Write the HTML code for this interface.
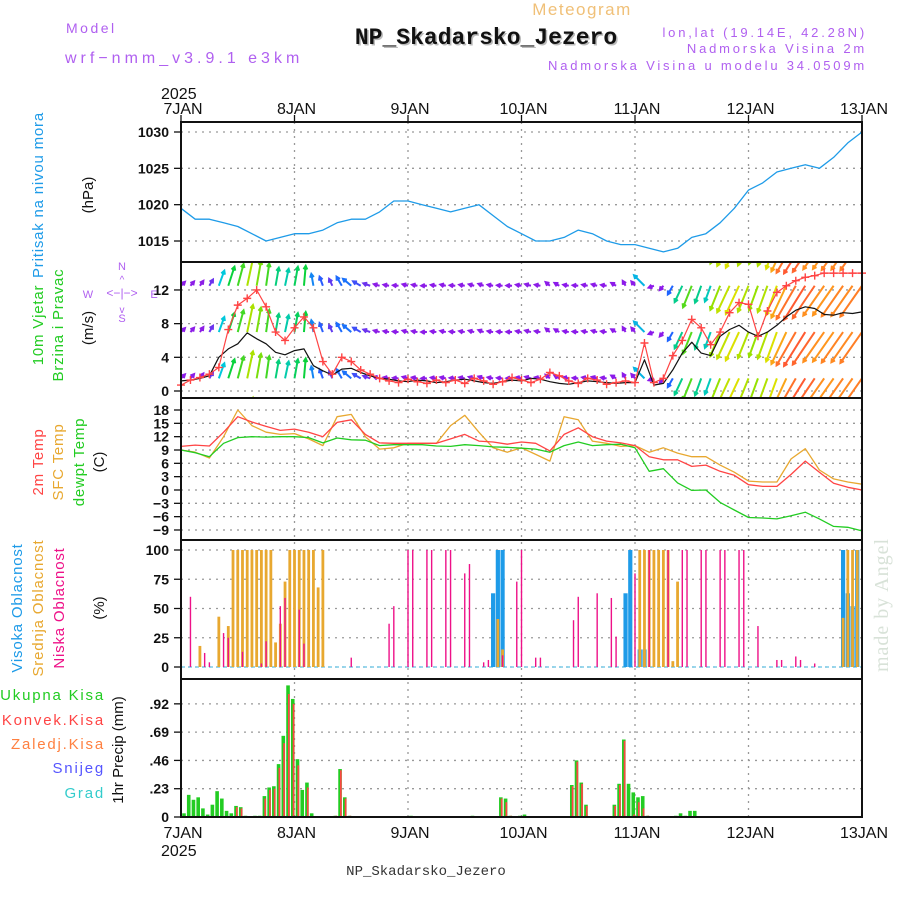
<!DOCTYPE html>
<html><head><meta charset="utf-8"><style>
html,body{margin:0;padding:0;background:#fff;}
svg{display:block;font-family:"Liberation Sans",sans-serif;}
</style></head><body>
<svg id="chart" width="900" height="900" viewBox="0 0 900 900" xmlns="http://www.w3.org/2000/svg">
<defs><clipPath id="windclip"><rect x="181" y="263" width="681" height="134"/></clipPath></defs>
<rect x="0" y="0" width="900" height="900" fill="#fff"/>
<text x="582" y="15" font-size="17" fill="#f0c078" text-anchor="middle" letter-spacing="1.5">Meteogram</text>
<text x="486" y="44" font-size="23" font-weight="bold" fill="#bbb" text-anchor="middle" font-family="Liberation Mono, monospace" transform="translate(1.5,1.5)">NP_Skadarsko_Jezero</text>
<text x="486" y="44" font-size="23" font-weight="bold" fill="#111" text-anchor="middle" font-family="Liberation Mono, monospace">NP_Skadarsko_Jezero</text>
<text x="66" y="33" font-size="14" fill="#b060f0" letter-spacing="2.5">Model</text>
<text x="65" y="63" font-size="16" fill="#b060f0" letter-spacing="4">wrf−nmm_v3.9.1 e3km</text>
<text x="867" y="37" font-size="13" fill="#b060f0" text-anchor="end" letter-spacing="2.8">lon,lat (19.14E, 42.28N)</text>
<text x="867" y="53" font-size="13" fill="#b060f0" text-anchor="end" letter-spacing="2.8">Nadmorska Visina 2m</text>
<text x="867" y="70" font-size="13" fill="#b060f0" text-anchor="end" letter-spacing="2.8">Nadmorska Visina u modelu 34.0509m</text>
<text x="161" y="99" font-size="16" fill="#111">2025</text>
<text x="161" y="856" font-size="16" fill="#111">2025</text>
<text x="426" y="875" font-size="14" fill="#333" text-anchor="middle" font-family="Liberation Mono, monospace">NP_Skadarsko_Jezero</text>

<text transform="translate(43,195) rotate(-90)" font-size="15" fill="#1e9be8" text-anchor="middle" letter-spacing="0.8">Pritisak na nivou mora</text>
<text transform="translate(93,195) rotate(-90)" font-size="15" fill="#111" text-anchor="middle">(hPa)</text>
<text transform="translate(43,325) rotate(-90)" font-size="15" fill="#22cc22" text-anchor="middle" letter-spacing="0.8">10m Vjetar</text>
<text transform="translate(63,325) rotate(-90)" font-size="15" fill="#22cc22" text-anchor="middle" letter-spacing="0.8">Brzina i Pravac</text>
<text transform="translate(93,328) rotate(-90)" font-size="15" fill="#111" text-anchor="middle">(m/s)</text>
<g fill="#b060f0" font-size="11" text-anchor="middle">
<text x="122" y="270">N</text><text x="122" y="322">S</text><text x="88" y="298">W</text><text x="154" y="298">E</text>
<text x="122" y="297" font-size="12">&lt;−|−&gt;</text>
<text x="122" y="283" font-size="10">^</text><text x="122" y="313" font-size="10">v</text>
</g>
<text transform="translate(43,462) rotate(-90)" font-size="15" fill="#ff4444" text-anchor="middle" letter-spacing="0.8">2m Temp</text>
<text transform="translate(63,462) rotate(-90)" font-size="15" fill="#e8a830" text-anchor="middle" letter-spacing="0.8">SFC Temp</text>
<text transform="translate(84,462) rotate(-90)" font-size="15" fill="#22cc22" text-anchor="middle" letter-spacing="0.8">dewpt Temp</text>
<text transform="translate(104,462) rotate(-90)" font-size="15" fill="#111" text-anchor="middle">(C)</text>
<text transform="translate(22,608) rotate(-90)" font-size="15" fill="#1e9be8" text-anchor="middle" letter-spacing="0.8">Visoka Oblacnost</text>
<text transform="translate(43,608) rotate(-90)" font-size="15" fill="#e8a830" text-anchor="middle" letter-spacing="0.8">Srednja Oblacnost</text>
<text transform="translate(64,608) rotate(-90)" font-size="15" fill="#ee1188" text-anchor="middle" letter-spacing="0.8">Niska Oblacnost</text>
<text transform="translate(104,608) rotate(-90)" font-size="15" fill="#111" text-anchor="middle">(%)</text>
<g font-size="15" text-anchor="end" letter-spacing="1.8">
<text x="105" y="700" fill="#22cc22">Ukupna Kisa</text>
<text x="105" y="725" fill="#ff4444">Konvek.Kisa</text>
<text x="105" y="749" fill="#ff8040">Zaledj.Kisa</text>
<text x="105" y="773" fill="#5555ff">Snijeg</text>
<text x="105" y="798" fill="#33cccc">Grad</text>
</g>
<text transform="translate(123,750) rotate(-90)" font-size="15" fill="#111" text-anchor="middle">1hr Precip (mm)</text>
<text transform="translate(888,605) rotate(-90)" font-size="20" fill="#d8e2d8" text-anchor="middle" letter-spacing="1" font-family="Liberation Serif, serif">made by Angel</text>
<g id="plot"></g>
</svg>
<script>
const days = ['7JAN','8JAN','9JAN','10JAN','11JAN','12JAN','13JAN'];
const pressure = [1019.5,1018,1018,1017.5,1017,1016,1015,1015.5, 1016,1016,1016.5,1017.5,1018,1018,1019,1020.5, 1020.5,1020,1019.5,1019,1019.5,1020,1018.5,1017, 1016,1015,1015,1015.5,1016.5,1016,1015,1014.5, 1014.5,1014,1013.5,1014,1015.5,1016,1017.5,1019.5, 1022,1023,1024.5,1025,1025.5,1025,1026.5,1028.5, 1030];
const temp2m = [9.8,10.1,9.9,13,16.5,15.3,14.3,13.4,13.7,13,12,15.2,15.8,12.5,10.6,10.5, 10.5,10.5,10.5,11.5,12.5,11,10.8,10.3, 10.8,10.5,8.8,12.5,14,12,11,10.6, 10,7.5,6.8,6.8,5.3,5.6,4.2,3.3, 1.2,0.8,0.8,3.5,6.5,4,1.5,0.6, 0];
const tempSfc = [9,8.5,7.2,12,18,14.5,13,12.5,12.7,11.5,10,16.5,17,12,9.2,9.5, 10.5,10.5,10.5,14.5,16.8,13,9.5,8.5, 9.5,8,6.5,16.5,15.8,11,10.5,9.8, 10,8.5,9.5,8.3,7.5,7.5,5.6,4, 2,1.8,1.8,7,9.3,4.5,2.5,1.8, 1.3];
const dewpt = [9,8.4,7.5,10.5,11.8,12,11.9,12,12,11.8,10.6,11.7,11.3,11.2,10,10.2, 10.2,10.2,9.9,9.8,10.2,10,9.7,9.6, 9.4,9.2,8.5,10,10.8,10,10.2,10.3, 9.5,4.2,4.8,1.6,-0.1,0,-2.8,-4.5, -6.2,-6.3,-6.5,-5.8,-5,-6.5,-8.2,-8.4, -9.2];
const windSpeed = [1.2,1.3,1.5,1.8,4.0,5.0,5.6,6.9,6.2,5.6,4.6,4.3,4.8,5.0,3.0,2.4,1.9,2.6,2.7,2.2,1.8,1.5, 1.4,1.2,1.1,1.3,1.2,1.0,1.1,1.3,1.4,1.2,1.0,0.9,1.1,1.3,1.2,1.5,1.4,1.1,0.9,0.8,1.0,1.2,1.1,1.0,0.9,1.0, 1.0,3.7,0.7,0.9,2.5,4.5,5.8,4.5,4.2,6.5,7.3,7.8,7.0,6.5,7.0,7.8,8.8,9.6,10.0,9.8,9.1,9.0,9.3,9.2,9.4];
const windGust = [0.7,1.3,1.6,2.0,2.8,7.3,10.2,11.0,12.0,10.0,7.0,6.0,7.5,8.8,7.5,3.5,2.0,4.0,3.5,2.5,2.0,1.5, 1.2,1.0,1.4,1.1,0.9,1.3,1.0,1.3,0.9,1.5,1.2,0.8,1.1,1.6,1.3,1.0,1.4,2.2,1.8,1.2,0.9,1.5,1.3,0.8,1.0,1.2, 1.0,5.7,1.0,1.5,4.2,6.0,8.5,7.5,5.5,7.0,9.3,10.5,10.3,6.5,9.5,11.7,12.5,13.1,13.5,13.7,14.0,14.0,14.0,14.0,14.0];
const windDir = [45,50,55,60,70,72,75,78,80,82,80,78,80,85,100,110,115,120,140,150,160,165, 170,175,165,170,180,172,168,175,170,165,160,170,175,178,170,165,170,140,150,170,175,170,165,172,150,120, 130,135,200,230,240,245,248,250,250,248,245,245,248,250,250,250,245,240,238,236,235,235,235,235,235];
const lowCloudHours = [2,5,6,9,10,13,17,18,21,22,25,26,36,44,45,48,49,52,53,56,57,60,61,64,65,68,71,72,75,76,83,84,88,91,92,96,99,103,106,107,110,111,114,115,118,119,122,126,127,130,131,134];
const lowCloud = [60,12,4,29,25,13,3,22,52,59,49,20,8,37,52,100,100,100,100,100,100,80,88,4,6,10,73,100,8,8,40,60,63,59,26,80,100,100,100,100,100,100,100,100,100,100,35,6,6,9,6,3];
const midCloudHours = [4,8,10,11,12,13,14,15,16,17,18,19,20,21,22,23,24,25,26,27,28,29,30,67,68,97,98,99,100,101,102,103,104,105,140,141,142,143];
const midCloud = [18,43,35,100,100,100,100,100,100,100,100,100,21,37,73,100,100,100,100,100,100,68,100,41,15,100,100,100,100,100,100,100,5,73,42,100,100,100];
const highCloudHours = [66,67,68,94,95,97,98,140,141,142,143];
const highCloud = [63,100,100,63,100,15,15,100,63,52,100];
const precipHours = [0,1,2,3,4,5,6,7,8,9,10,11,12,13,15,16,17,18,19,20,21,22,23,24,25,26,27,32,33,34,35,48,61,67,68,69,71,72,82,83,84,85,91,92,93,94,95,96,97,98,104,105,106,107,108];
const precipTotal = [.03,.18,.14,.16,.07,.02,.1,.21,.15,.05,.03,.09,.08,.01,.01,.01,.17,.24,.25,.43,.66,1.07,.96,.47,.22,.28,.03,.01,.39,.16,.01,.01,.01,.16,.15,.01,.01,.02,.26,.46,.28,.1,.1,.27,.63,.27,.2,.16,.17,.01,.01,.03,.01,.05,.05];
const precipConv = [0,0,0,0,0,0,0,0,0,0,0,.08,.07,0,0,0,.15,.22,.23,.4,.6,1.0,.92,.42,0,.24,0,.01,.38,.15,.01,0,0,.15,.12,.01,0,0,.25,.45,.27,.09,.09,.26,.62,0,.02,.12,.07,.01,0,0,0,0,0];
const pressTicks = [1015,1020,1025,1030];
const windTicks = [0,4,8,12];
const tempTicks = [-9,-6,-3,0,3,6,9,12,15,18];
const cloudTicks = [0,25,50,75,100];
const precipTicks = [0,0.23,0.46,0.69,0.92];

const NS='http://www.w3.org/2000/svg';
const plot=document.getElementById('plot');
function mk(tag,attrs,parent){const e=document.createElementNS(NS,tag);for(const k in attrs)e.setAttribute(k,attrs[k]);(parent||plot).appendChild(e);return e;}
const X0=181,X1=862;
const xH=h=>X0+h*(X1-X0)/144;
const yP=v=>132+(1030-v)*7.267;
const yW=v=>391-v*8.42;
const yT=v=>410+(18-v)*4.444;
const yC=v=>667-v*1.17;
const yR=v=>817-v*123;
const panels=[[122,262,'pressure'],[262,398,'wind'],[398,540,'temp'],[540,679,'cloud'],[679,817,'precip']];

function hgrid(ticks,fy,fmt,name){
  ticks.forEach(t=>{
    const y=fy(t);
    const g=mk('line',{x1:X0,x2:X1,y1:y,y2:y,stroke:'#999','stroke-width':1.3,'stroke-dasharray':'2,5'});
    
    
    const tk=mk('line',{x1:X0-7,x2:X0,y1:y,y2:y,stroke:'#111','stroke-width':1.3});
    
    
    const lb=mk('text',{x:X0-12,y:y+5,'font-size':14,'text-anchor':'end',fill:'#111','font-weight':'bold'});
    lb.textContent=fmt(t);
    
    
  });
}
hgrid(pressTicks,yP,t=>t,'pressure');
hgrid(windTicks,yW,t=>t,'wind');
hgrid(tempTicks,yT,t=>t<0?'−'+(-t):t,'temp');
hgrid(cloudTicks,yC,t=>t,'cloud');
hgrid(precipTicks,yR,t=>t===0?'0':t.toFixed(2).replace(/^0/,''),'precip');
days.forEach((d,i)=>{
  const x=xH(i*24);
  if(i>0&&i<6){
    const v=mk('line',{x1:x,x2:x,y1:122,y2:817,stroke:'#999','stroke-width':1.3,'stroke-dasharray':'2,5'});
    
    
  }
  const t1=mk('text',{x:x+2,y:114,'font-size':16,'text-anchor':'middle',fill:'#111'});
  t1.textContent=d;
  
  
  const t2=mk('text',{x:x+2,y:838,'font-size':16,'text-anchor':'middle',fill:'#111'});
  t2.textContent=d;
  
  
  const tk=mk('line',{x1:x,x2:x,y1:115,y2:122,stroke:'#111','stroke-width':1.3});
  
  
});

function line(arr,step,fy,color,name,w){
  const pts=arr.map((v,i)=>xH(i*step).toFixed(1)+','+fy(v).toFixed(1)).join(' ');
  const p=mk('polyline',{points:pts,fill:'none',stroke:color,'stroke-width':w||1.3,'stroke-linejoin':'round'});
  
  
  return p;
}
line(pressure,3,yP,'#1e9be8','pressure-line');

const wg=mk('g',{'clip-path':'url(#windclip)'});


function windColor(s){
  const stops=[[0,[140,20,240]],[1.5,[140,30,230]],[2.5,[30,100,255]],[4,[0,200,220]],[5,[10,210,60]],[6.5,[150,225,0]],[8,[230,225,0]],[9,[255,150,30]],[10.5,[255,60,60]]];
  if(s<=0)return 'rgb(140,20,240)';
  for(let i=1;i<stops.length;i++){
    if(s<=stops[i][0]){const a=stops[i-1],b=stops[i],f=(s-a[0])/(b[0]-a[0]);
      return 'rgb('+a[1].map((c,j)=>Math.round(c+(b[1][j]-c)*f)).join(',')+')';}
  }
  return 'rgb(255,60,60)';
}
const rowBases=[18,12.5,7,1.5,-4];
rowBases.forEach(base=>{
  windSpeed.forEach((s,k)=>{
    const x=xH(k*2), y=yW(base);
    const L=4*Math.max(s,1.4);
    const a=windDir[k]*Math.PI/180;
    const dx=Math.cos(a)*L, dy=-Math.sin(a)*L;
    const col=windColor(s);
    const x2=x+dx,y2=y+dy;
    const ua=Math.atan2(dy,dx);
    const h1x=x2-4*Math.cos(ua-0.5),h1y=y2-4*Math.sin(ua-0.5);
    const h2x=x2-4*Math.cos(ua+0.5),h2y=y2-4*Math.sin(ua+0.5);
    const p=mk('path',{d:`M${x},${y}L${x2},${y2}M${h1x},${h1y}L${x2},${y2}L${h2x},${h2y}`,stroke:col,'stroke-width':2,fill:'none'},wg);
    
    
  });
});
line(windSpeed,2,yW,'#111','wind-speed-line',1.2);
line(windGust,2,yW,'#ff4444','wind-gust-line',1.2);
windGust.forEach((g,k)=>{
  const x=xH(k*2),y=yW(g);
  const p=mk('path',{d:`M${x-4},${y}H${x+4}M${x},${y-4}V${y+4}`,stroke:'#ff4444','stroke-width':1.4});
  
  
});

line(tempSfc,3,yT,'#e8a830','sfc-temp-line');
line(temp2m,3,yT,'#ff4444','t2m-line');
line(dewpt,3,yT,'#22cc22','dewpt-line');

const cb=mk('line',{x1:X0,x2:X1,y1:yC(0),y2:yC(0),stroke:'#7ccce8','stroke-width':1.5,'stroke-dasharray':'4,3'});


function bars(hours,vals,fy,w,color,name,off){
  hours.forEach((h,i)=>{
    const x=xH(h)+(off||0), y=fy(vals[i]), y0=fy(0);
    const r=mk('rect',{x:x-w/2,y:y,width:w,height:Math.max(0,y0-y),fill:color});
    
    
  });
}
bars(highCloudHours,highCloud,yC,4.2,'#1e9be8','high-cloud-bar');
bars(midCloudHours,midCloud,yC,2.8,'#e8a830','mid-cloud-bar');
bars(lowCloudHours,lowCloud,yC,1.4,'#ee1188','low-cloud-bar');

bars(precipHours,precipTotal,yR,3.6,'#22cc22','precip-total-bar',3);
bars(precipHours,precipConv,yR,1.7,'#ff4444','precip-conv-bar',3.8);

panels.forEach(p=>{
  const r=mk('rect',{x:X0,y:p[0],width:X1-X0,height:p[1]-p[0],fill:'none',stroke:'#111','stroke-width':2});
  
  
});
</script>
</body></html>
